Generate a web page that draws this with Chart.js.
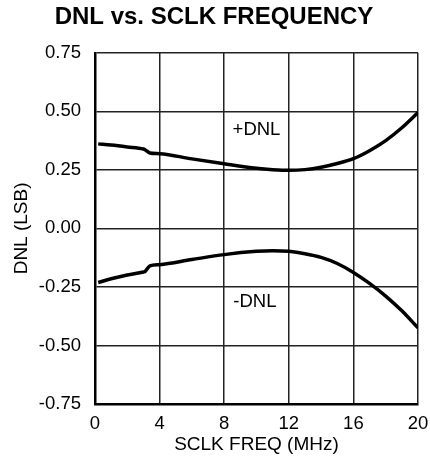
<!DOCTYPE html>
<html>
<head>
<meta charset="utf-8">
<script src="https://cdn.jsdelivr.net/npm/chart.js@4/dist/chart.umd.min.js"></script>
<style>
  html, body { margin: 0; padding: 0; background: #fff; }
  #wrap { width: 430px; height: 467px; }
</style>
</head>
<body>
<div id="wrap"><canvas id="chart"></canvas></div>
<script>
// ---------------- DATA ----------------

const freqMHz = [0.2, 1, 2, 3, 3.1, 3.4, 4, 6, 8, 10, 11, 12, 13, 14, 15, 16, 17, 18, 19, 20];
const dnlPos = [0.361, 0.356, 0.348, 0.339, 0.336, 0.322, 0.319, 0.297, 0.276, 0.257, 0.251, 0.248,
                0.251, 0.261, 0.277, 0.298, 0.332, 0.375, 0.430, 0.495];
const dnlNeg = [-0.231, -0.215, -0.199, -0.186, -0.184, -0.160, -0.155, -0.133, -0.112, -0.098, -0.095, -0.098,
                -0.108, -0.124, -0.150, -0.188, -0.235, -0.289, -0.352, -0.425];

// curve labels, in data units
const curveLabels = ["+DNL", "-DNL"];
const curveLabelX = [10.0, 9.9];
const curveLabelY = [0.42, -0.315];

const FONT = "'Liberation Sans', Arial, sans-serif";

function toPoints(xs, ys) {
    return xs.map((x, i) => ({ x: x, y: ys[i] }));
}

// ---------------- PLUGIN: curve labels ----------------

const curveLabelPlugin = {
    id: "curveLabels",
    afterDatasetsDraw(chart) {
        const ctx = chart.ctx;
        const xs = chart.scales.x;
        const ys = chart.scales.y;
        ctx.save();
        ctx.font = "18.5px " + FONT;
        ctx.fillStyle = "#000";
        ctx.textAlign = "center";
        ctx.textBaseline = "middle";
        curveLabels.forEach((t, i) => {
            ctx.fillText(t, xs.getPixelForValue(curveLabelX[i]), ys.getPixelForValue(curveLabelY[i]));
        });
        ctx.restore();
    }
};

// ---------------- CHART ----------------

const ctx = document.getElementById("chart").getContext("2d");

new Chart(ctx, {
    type: "line",
    data: {
        datasets: [
            {
                label: "+DNL",
                data: toPoints(freqMHz, dnlPos),
                borderColor: "#000",
                borderWidth: 3.5,
                pointRadius: 0,
                fill: false,
                cubicInterpolationMode: "monotone"
            },
            {
                label: "-DNL",
                data: toPoints(freqMHz, dnlNeg),
                borderColor: "#000",
                borderWidth: 3.5,
                pointRadius: 0,
                fill: false,
                cubicInterpolationMode: "monotone"
            }
        ]
    },
    options: {
        responsive: true,
        maintainAspectRatio: false,
        animation: false,
        layout: { padding: { left: 10, right: 12, top: 0, bottom: 5 } },
        plugins: {
            legend: { display: false },
            tooltip: { enabled: false },
            title: {
                display: true,
                text: "DNL vs. SCLK FREQUENCY",
                color: "#000",
                font: { family: FONT, size: 24, weight: "bold" },
                padding: { top: 3, bottom: 21 }
            }
        },
        scales: {
            x: {
                type: "linear",
                min: 0,
                max: 20,
                ticks: {
                    stepSize: 4,
                    color: "#000",
                    padding: 0,
                    font: { family: FONT, size: 18.5 }
                },
                // invisible tick marks give the label offset without widening the right padding
                grid: { color: "#222", lineWidth: 1.5, drawTicks: true, tickLength: 9, tickColor: "rgba(0,0,0,0)" },
                border: { color: "#000", width: 2.5 },
                title: {
                    display: true,
                    text: "SCLK FREQ (MHz)",
                    color: "#000",
                    font: { family: FONT, size: 19 },
                    padding: { top: -2, bottom: 6 }
                }
            },
            y: {
                min: -0.75,
                max: 0.75,
                ticks: {
                    stepSize: 0.25,
                    color: "#000",
                    padding: 14,
                    font: { family: FONT, size: 18.5 },
                    callback: v => v.toFixed(2)
                },
                grid: { color: "#222", lineWidth: 1.5, drawTicks: false },
                border: { color: "#000", width: 2.5 },
                title: {
                    display: true,
                    text: "DNL (LSB)",
                    color: "#000",
                    font: { family: FONT, size: 19 },
                    padding: { top: 0, bottom: -8 }
                }
            }
        }
    },
    plugins: [curveLabelPlugin]
});
</script>
</body>
</html>
